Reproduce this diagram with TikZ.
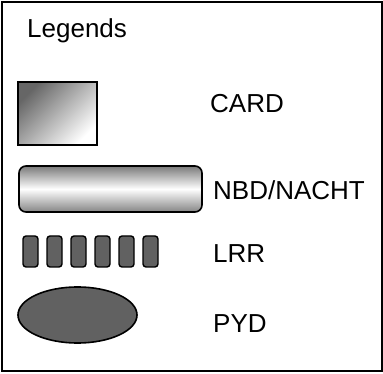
\documentclass[tikz,border=0pt]{standalone}
\usepackage{fontspec}
\setmainfont{Liberation Sans}
\usetikzlibrary{shapes.geometric}
\tikzset{
  % legend symbols
  card/.style={rectangle,draw,line width=1.6pt,inner sep=0pt,minimum width=79pt,minimum height=63pt,
    top color=black!60,bottom color=white,shading angle=45},
  nbd/.style={rectangle,draw,line width=1.6pt,rounded corners=7pt,inner sep=0pt,minimum width=183pt,minimum height=46pt,
    top color=black!52,bottom color=black!48,middle color=white},
  lrr/.style={rectangle,draw,line width=1.4pt,rounded corners=3pt,inner sep=0pt,minimum width=15pt,minimum height=31pt,fill=black!62},
  pyd/.style={ellipse,draw,line width=1.6pt,inner sep=0pt,minimum width=119pt,minimum height=56pt,fill=black!62},
  % labels
  lbl/.style={anchor=base west,inner sep=0pt,font=\fontsize{26}{30}\selectfont},
}

\begin{document}
\begin{tikzpicture}[x=1pt,y=-1pt]
  \useasboundingbox (0,0) rectangle (383,374);
  \draw[line width=2pt] (1.5,2.5) rectangle (381.5,370.5);
  \node[lbl] (title) at (27,38) {Legends};
  % CARD
  \node[card] (cardsym) at (57.5,113.5) {};
  \node[lbl] (cardtxt) at (210,113) {CARD};
  % NBD/NACHT
  \node[nbd] (nbdsym) at (110.5,189) {};
  \node[lbl] (nbdtxt) at (213,200) {NBD/NACHT};
  % LRR
  \foreach \i in {0,...,5}
    \node[lrr] (lrr\i) at (30.5+24*\i,251.5) {};
  \node[lbl] (lrrtxt) at (213,263) {LRR};
  % PYD
  \node[pyd] (pydsym) at (77.5,315) {};
  \node[lbl] (pydtxt) at (213,332) {PYD};
\end{tikzpicture}
\end{document}
